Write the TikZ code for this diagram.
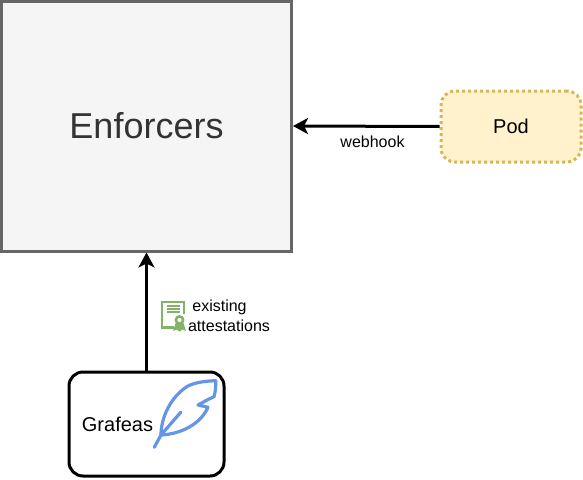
\documentclass[tikz,border=0pt]{standalone}
\usepackage{fontspec}
\setmainfont{Liberation Sans}
\usepackage{xcolor}
\usetikzlibrary{arrows.meta, positioning}
\definecolor{enfFill}{HTML}{F5F5F5}
\definecolor{enfLine}{HTML}{666666}
\definecolor{podFill}{HTML}{FFF2CC}
\definecolor{podLine}{HTML}{D6B656}
\definecolor{certGreen}{HTML}{82B366}
\definecolor{featherBlue}{HTML}{6495E8}

\begin{document}
\begin{tikzpicture}[x=1pt, y=-1pt,
  box/.style={draw, rounded corners=14pt, inner sep=0pt},
  link/.style={-{Stealth[length=15pt, width=16pt, inset=4pt]}, line width=3pt},
  lbl/.style={inner sep=0pt, font=\fontsize{16}{19}\selectfont, text=black},
  cert/.style={certGreen, line width=2.2pt}]
  \useasboundingbox (0,0) rectangle (583,479);

  % boxes
  \node[draw=enfLine, fill=enfFill, line width=3pt, minimum width=290pt, minimum height=250pt,
        inner sep=0pt, text=black!80, font=\fontsize{36}{42}\selectfont] (enforcers) at (146.5,126) {Enforcers};
  \node[box, draw=podLine, fill=podFill, line width=3pt, dash pattern=on 3pt off 3pt,
        minimum width=140pt, minimum height=71pt, font=\fontsize{20}{24}\selectfont] (pod) at (511,126.5) {Pod};
  \node[box, line width=3pt, minimum width=155pt, minimum height=104pt] (grafeas) at (146.5,424) {};
  \node[inner sep=0pt, font=\fontsize{20}{24}\selectfont] (grafeasText) at (117.5,424) {Grafeas};

  % connectors
  \draw[link] (pod.west) -- (enforcers.east);
  \draw[link] (grafeas.north) -- (enforcers.south);

  % labels
  \node[lbl] (webhook) at (372.5,142) {webhook};
  \node[lbl] (existing) at (219.5,307) {existing};
  \node[lbl] (attest) at (229,326) {attestations};

  % certificate icon
  \draw[cert] (174,327.5) -- (162,327.5) -- (162,302) -- (184,302) -- (184,314);
  \draw[cert] (167,306) -- (180,306);
  \draw[cert] (167,309) -- (180,309);
  \draw[cert] (167,312) -- (180,312);
  \fill[certGreen] (176,322) -- (173,331) -- (176.5,329.5) -- (179.5,331.5) -- (182.5,329.5) -- (186,331) -- (183,322) -- cycle;
  \draw[cert, fill=white, line width=2.6pt] (179.5,320) circle (3.6pt);

  % feather
  \draw[featherBlue, line width=3.2pt, line cap=round, line join=round]
    (161,435) .. controls (161,418) and (170,398) .. (186.7,386.7)
    .. controls (195,382) and (207,381) .. (215.7,380.7)
    .. controls (216,388) and (215,393) .. (214,396.7)
    -- (208,399.5) -- (198,405) -- (208,407.3)
    .. controls (200,425) and (180,434) .. (161,435);
  \draw[featherBlue, line width=3.2pt, line cap=round] (154.3,447.3) -- (161,435) -- (180.7,412.3);
\end{tikzpicture}
\end{document}
